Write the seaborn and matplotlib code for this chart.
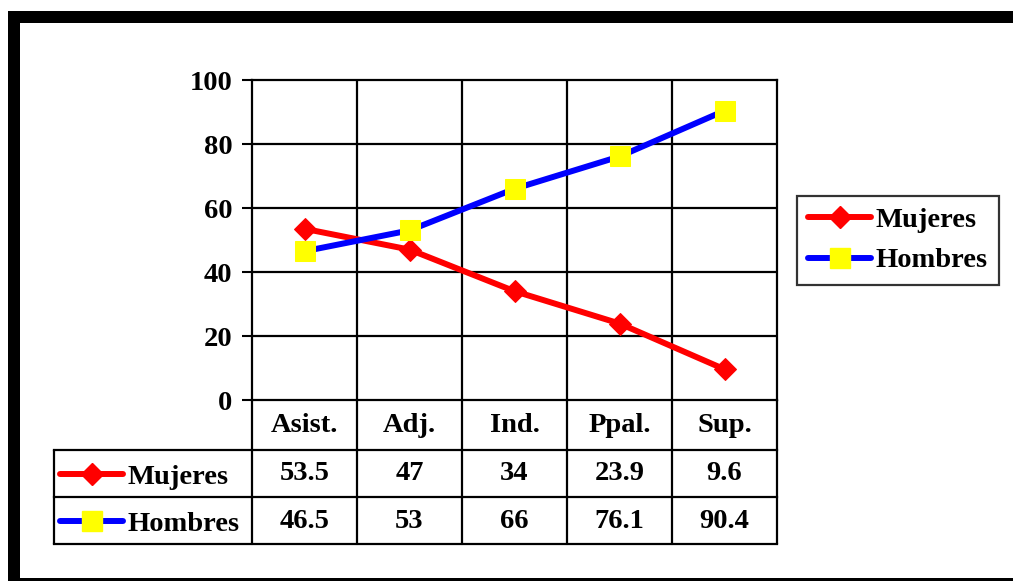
import matplotlib
matplotlib.use("Agg")
import matplotlib.pyplot as plt
from matplotlib.lines import Line2D
import seaborn as sns
import pandas as pd

categories = ["Asist.", "Adj.", "Ind.", "Ppal.", "Sup."]
mujeres = [53.5, 47, 34, 23.9, 9.6]
hombres = [46.5, 53, 66, 76.1, 90.4]
mujeres_labels = ["53.5", "47", "34", "23.9", "9.6"]
hombres_labels = ["46.5", "53", "66", "76.1", "90.4"]
series_names = ["Mujeres", "Hombres"]
y_ticks = [0, 20, 40, 60, 80, 100]

sns.set_theme(style="white")
plt.rcParams["font.family"] = ["Liberation Serif", "DejaVu Serif"]
plt.rcParams["font.weight"] = "bold"
for k in ["text.color", "axes.labelcolor", "xtick.color", "ytick.color"]:
    plt.rcParams[k] = "black"
FS = 20.5

W, H = 1013, 581
fig = plt.figure(figsize=(W / 100, H / 100), dpi=100)
fig.patch.set_facecolor("white")

def fx(px):
    return px / W

def fy(py):
    return 1 - py / H

# outer frame
fig.add_artist(Line2D([fx(14), fx(14)], [fy(11), fy(581)], color="black", lw=12 * 0.72, solid_capstyle="butt"))
fig.add_artist(Line2D([fx(8), fx(1013)], [fy(17), fy(17)], color="black", lw=12 * 0.72, solid_capstyle="butt"))
fig.add_artist(Line2D([fx(8), fx(1013)], [fy(579), fy(579)], color="black", lw=3 * 0.72, solid_capstyle="butt"))

# main axes
ax = fig.add_axes([fx(252), fy(400), fx(777) - fx(252), fy(80) - fy(400)])
df = pd.DataFrame({
    "x": list(range(len(categories))) * 2,
    "v": mujeres + hombres,
    "s": [series_names[0]] * len(categories) + [series_names[1]] * len(categories),
})
LW = 4.3
colors_line = {"Mujeres": "#ff0000", "Hombres": "#0000ff"}
marks = {"Mujeres": "D", "Hombres": "s"}
face = {"Mujeres": "#ff0000", "Hombres": "#ffff00"}
msize = {"Mujeres": 11, "Hombres": 14}

sns.lineplot(data=df, x="x", y="v", hue="s", style="s",
             palette=colors_line, markers=marks, dashes=False,
             lw=LW, ax=ax, legend=False, zorder=5)
for line, name in zip(ax.lines, series_names):
    line.set_markerfacecolor(face[name])
    line.set_markeredgecolor(face[name])
    line.set_markersize(msize[name])
    line.set_solid_joinstyle("round")
    line.set_solid_capstyle("round")

ax.set_xlim(-0.5, len(categories) - 0.5)
ax.set_ylim(0, 100)
ax.set_yticks(y_ticks)
ax.set_yticklabels([str(t) for t in y_ticks], fontsize=FS, fontweight="bold", color="black")
ax.set_xticks([])
ax.set_xlabel("")
ax.set_ylabel("")
ax.tick_params(axis="y", direction="out", length=7.2, width=1.5, color="black", pad=7, left=True)
for sp in ax.spines.values():
    sp.set_color("black")
    sp.set_linewidth(1.6)
for t in y_ticks[1:-1]:
    ax.axhline(t, color="black", lw=1.6, zorder=1)
for i in range(len(categories) - 1):
    ax.axvline(i + 0.5, color="black", lw=1.6, zorder=1)

# data table
left_w = (252 - 54) / 105
xl = -0.5 - left_w
xr = len(categories) - 0.5
axt = fig.add_axes([fx(54), fy(544), fx(777) - fx(54), fy(400) - fy(544)])
axt.set_xlim(xl, xr)
axt.set_ylim(144, 0)
axt.axis("off")
rows = [0, 50, 97, 144]
lwt = 1.6
for yy in rows[1:]:
    axt.plot([xl, xr], [yy, yy], color="black", lw=lwt, clip_on=False, solid_capstyle="projecting")
axt.plot([xl, xl], [rows[1], rows[3]], color="black", lw=lwt, clip_on=False)
for i in range(len(categories) + 1):
    axt.plot([i - 0.5, i - 0.5], [0, rows[3]], color="black", lw=lwt, clip_on=False)
for i, c in enumerate(categories):
    axt.text(i, 26, c, ha="center", va="center", fontsize=FS, fontweight="bold", color="black")
    axt.text(i, 74, mujeres_labels[i], ha="center", va="center", fontsize=FS, fontweight="bold", color="black")
    axt.text(i, 121, hombres_labels[i], ha="center", va="center", fontsize=FS, fontweight="bold", color="black")

key_x0 = xl + 6 / 105
key_x1 = xl + 69 / 105
key_mid = (key_x0 + key_x1) / 2
for name, yc in zip(series_names, [73.5, 120.5]):
    axt.plot([key_x0, key_x1], [yc, yc], color=colors_line[name], lw=LW, solid_capstyle="round", clip_on=False)
    axt.plot([key_mid], [yc], marker=marks[name], color=face[name], markersize=msize[name],
             markeredgecolor=face[name], clip_on=False, lw=0)
    axt.text(xl + 73 / 105, yc + 4, name, ha="left", va="center", fontsize=FS, fontweight="bold", color="black")

# legend on right
handles = [Line2D([], [], color=colors_line[n], lw=LW, marker=marks[n], markersize=msize[n],
                  markerfacecolor=face[n], markeredgecolor=face[n], solid_capstyle="round")
           for n in series_names]
leg = fig.legend(handles, series_names, loc="upper left",
                 bbox_to_anchor=(fx(797), fy(196)), frameon=True, fancybox=False,
                 prop={"family": "Liberation Serif", "weight": "bold", "size": FS},
                 handlelength=2.2, handletextpad=0.15, borderpad=0.4, labelspacing=0.5,
                 borderaxespad=0)
for t in leg.get_texts():
    t.set_color("black")
leg.get_frame().set_edgecolor("black")
leg.get_frame().set_linewidth(1.6)

fig.savefig("out.png", dpi=100)
